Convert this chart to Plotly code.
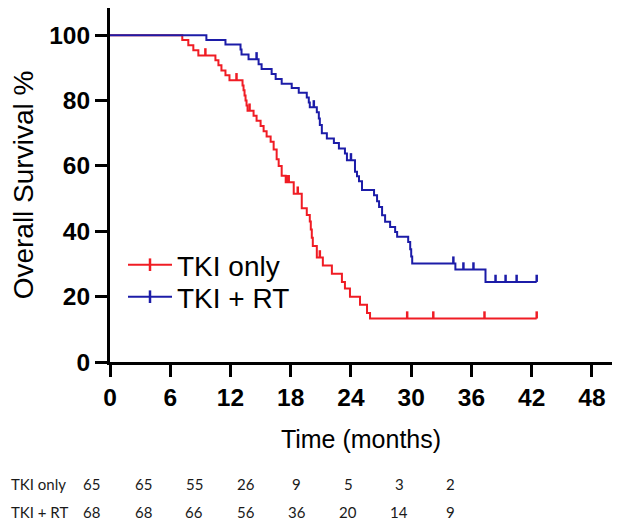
import numpy as np
import plotly.graph_objects as go

# ---------------- data ----------------
x_ticks = [0, 6, 12, 18, 24, 30, 36, 42, 48]
y_ticks = [0, 20, 40, 60, 80, 100]

# TKI only: step-change times (months) and survival (%) after each step
tki_t = [0, 7.2, 7.8, 8.3, 8.8, 10.5, 10.8, 11.1, 11.5, 11.9, 13.2, 13.3, 13.4, 13.5,
         13.6, 13.7, 14.3, 14.6, 15.0, 15.3, 15.6, 16.0, 16.3, 16.6, 16.8, 17.1, 17.5,
         18.3, 19.1, 19.6, 19.9, 20.0, 20.1, 20.2, 20.6, 21.2, 22.1, 23.1, 23.4, 23.9,
         24.9, 25.6, 25.9, 42.5]
tki_s = [100, 98.5, 96.9, 95.4, 93.8, 92.3, 90.8, 89.2, 87.7, 86.2, 84.6, 83.1, 81.5, 80.0,
         78.5, 76.9, 75.3, 73.8, 72.2, 70.6, 69.0, 67.4, 65.0, 62.0, 60.0, 57.0, 55.0,
         51.5, 47.0, 45.0, 43.0, 40.5, 38.0, 35.5, 32.0, 29.5, 27.0, 24.5, 22.5, 20.0,
         17.5, 15.0, 13.3, 13.3]
tki_cens = [9.5, 12.6, 13.9, 17.6, 17.8, 18.7, 20.9, 29.6, 32.2, 37.3, 42.5]

# TKI + RT
rt_t = [0, 9.6, 11.5, 13.0, 13.1, 13.8, 14.8, 15.1, 16.1, 16.5, 17.1, 18.1, 18.8, 19.6,
        19.8, 19.9, 20.6, 20.8, 20.9, 21.1, 21.6, 22.3, 22.8, 23.4, 23.6, 24.4, 24.6,
        24.8, 25.1, 26.3, 26.6, 26.8, 27.1, 27.4, 27.9, 28.4, 28.6, 29.7, 29.9, 30.0,
        30.1, 34.4, 37.4, 42.5]
rt_s = [100, 98.5, 97.1, 95.6, 94.1, 92.6, 91.1, 89.6, 88.1, 86.6, 85.1, 83.8, 82.4, 80.9,
        79.4, 77.9, 76.4, 74.5, 72.5, 70.0, 68.4, 67.0, 65.3, 63.8, 61.7, 58.2, 56.8,
        55.3, 52.6, 51.0, 49.2, 47.4, 44.9, 42.9, 41.3, 39.8, 38.3, 36.7, 34.5, 32.3,
        30.1, 28.3, 24.5, 24.5]
rt_cens = [14.6, 20.3, 24.0, 34.2, 35.2, 36.2, 38.4, 39.4, 40.5, 42.5]

risk_labels = ["TKI only", "TKI + RT"]
risk_tki = [65, 65, 55, 26, 9, 5, 3, 2]
risk_rt = [68, 68, 66, 56, 36, 20, 14, 9]

series_names = ["TKI only", "TKI + RT"]
colors = ["#f01c24", "#1c1ca8"]

# ---------------- helpers ----------------
def s_at(times, surv, t):
    i = np.searchsorted(np.asarray(times), t, side="right") - 1
    return surv[i]

def censor_segments(times, surv, cens, h=2.2):
    xs, ys = [], []
    for c in cens:
        s = s_at(times, surv, c)
        xs += [c, c, None]
        ys += [s, s + h, None]
    return xs, ys

FONT = "Arial, Liberation Sans, sans-serif"
TABLE_FONT = "Lato, Open Sans, sans-serif"

# The page body has an 8px margin, so the figure is laid out in page pixels minus 8.
OFF = 8
W, H = 633 - OFF, 522 - OFF
L, R, T, B = 110 - OFF, 612 - OFF, 0, 362 - OFF
pw, ph = R - L, B - T

def px_x(p):  # page pixel -> paper coordinate
    return (p - OFF - L) / pw

def px_y(p):
    return (B - (p - OFF)) / ph

legend_keys = ["legend", "legend2"]
legend_rows = [265, 297]

fig = go.Figure()
for k, (name, t, s, cens, col) in enumerate([
    (series_names[0], tki_t, tki_s, tki_cens, colors[0]),
    (series_names[1], rt_t, rt_s, rt_cens, colors[1]),
]):
    fig.add_trace(go.Scatter(x=t, y=s, mode="lines", line=dict(color=col, width=2, shape="hv"),
                             showlegend=False, hoverinfo="skip"))
    cx, cy = censor_segments(t, s, cens)
    fig.add_trace(go.Scatter(x=cx, y=cy, mode="lines", line=dict(color=col, width=2.5),
                             showlegend=False, hoverinfo="skip"))
    fig.add_trace(go.Scatter(x=[None], y=[None], mode="lines+markers", name=name,
                             legend=legend_keys[k],
                             line=dict(color=col, width=2),
                             marker=dict(symbol="line-ns", size=9,
                                         line=dict(color=col, width=2.5))))

# number-at-risk table
row_y = [484, 512]
col0, step = 91.7, 51.3
for r, (lab, vals) in enumerate(zip(risk_labels, [risk_tki, risk_rt])):
    fig.add_annotation(x=px_x(9), y=px_y(row_y[r]), xref="paper", yref="paper",
                       text=lab, showarrow=False, xanchor="left", yanchor="middle",
                       font=dict(family=TABLE_FONT, size=15, color="#1a1a1a"))
    for i, v in enumerate(vals):
        fig.add_annotation(x=px_x(col0 + i * step), y=px_y(row_y[r]), xref="paper", yref="paper",
                           text=str(v), showarrow=False, xanchor="center", yanchor="middle",
                           font=dict(family=TABLE_FONT, size=15, color="#1a1a1a"))

legend_style = dict(xanchor="left", yanchor="middle",
                    font=dict(family=FONT, size=28, color="black"),
                    bgcolor="rgba(0,0,0,0)", itemwidth=44)

fig.update_layout(
    width=W, height=H,
    margin=dict(l=L, r=W - R, t=T, b=H - B, autoexpand=False),
    paper_bgcolor="white", plot_bgcolor="white",
    font=dict(family=FONT, color="black"),
    legend=dict(x=px_x(123), y=px_y(legend_rows[0]), **legend_style),
    legend2=dict(x=px_x(123), y=px_y(legend_rows[1]), **legend_style),
    xaxis=dict(range=[0, 50], tickvals=x_ticks, showgrid=False, zeroline=False,
               showline=True, linecolor="black", linewidth=3, automargin=False,
               ticks="outside", ticklen=12, tickwidth=3, tickcolor="black",
               tickfont=dict(family=FONT, size=24.5, color="black", weight="bold"),
               title=dict(text="Time (months)", font=dict(family=FONT, size=25, color="black"),
                          standoff=21),
               fixedrange=True),
    yaxis=dict(range=[0, 108.3], tickvals=y_ticks, showgrid=False, zeroline=False,
               showline=True, linecolor="black", linewidth=3, automargin=False,
               ticks="outside", ticklen=12, tickwidth=3, tickcolor="black",
               tickfont=dict(family=FONT, size=24.5, color="black", weight="bold"),
               title=dict(text="Overall Survival %", font=dict(family=FONT, size=28, color="black"),
                          standoff=10),
               fixedrange=True),
)

fig.write_html("out.html")
